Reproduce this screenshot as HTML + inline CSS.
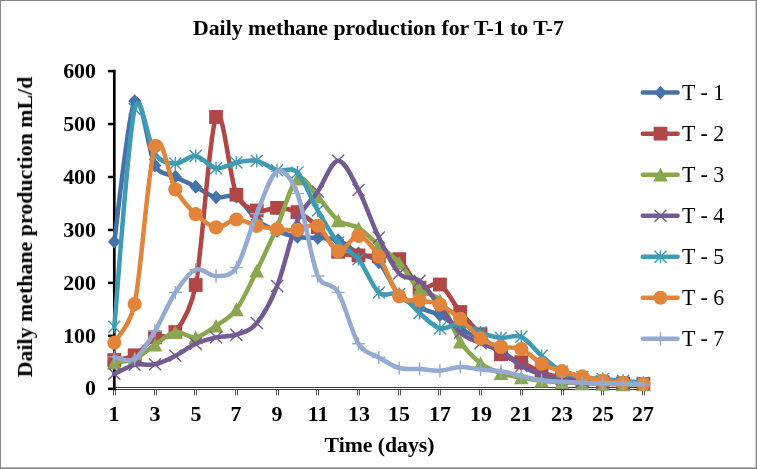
<!DOCTYPE html>
<html><head><meta charset="utf-8">
<style>
html,body{margin:0;padding:0;background:#fff;}
body{width:757px;height:469px;position:relative;overflow:hidden;font-family:"Liberation Serif",serif;color:#000;}
.frame{position:absolute;left:0;top:0;width:757px;height:469px;box-sizing:border-box;border:1px solid #868686;}
.fr2{position:absolute;left:1px;top:1px;width:755px;height:467px;box-sizing:border-box;border-right:1px solid #d0d0d0;border-bottom:1px solid #b4b4b4;}
.t{position:absolute;white-space:nowrap;line-height:1;will-change:transform;}
.b{font-weight:bold;}
.title{left:0;width:757px;text-align:center;top:18px;font-size:21.8px;}
.yl{font-size:21.9px;text-align:right;width:60px;left:35.8px;}
.xl{font-size:21.9px;text-align:center;width:40px;}
.lg{font-size:21.9px;left:681.7px;transform:scaleY(1.07);transform-origin:0 50%;margin-top:0.4px;}
.ytitle{font-size:21.9px;left:24.5px;top:226.5px;transform:translate(-50%,-50%) rotate(-90deg);}
.xtitle{font-size:21.7px;left:0;width:757px;text-align:center;top:434.5px;}
</style></head><body>
<div class="frame"></div><div class="fr2"></div>
<svg width="757" height="469" viewBox="0 0 757 469" style="position:absolute;left:0;top:0">
<g stroke="#3c3c3c" stroke-width="1.1" fill="none">
<path d="M114.30,387.5 L644.40,387.5 M114.30,389.5 L644.40,389.5"/>
<path d="M113.5,389 l0,6.3 M115.5,389 l0,6.3" stroke-width="0.9"/>
<path d="M154.5,389 l0,6.3 M156.5,389 l0,6.3" stroke-width="0.9"/>
<path d="M194.5,389 l0,6.3 M196.5,389 l0,6.3" stroke-width="0.9"/>
<path d="M235.5,389 l0,6.3 M237.5,389 l0,6.3" stroke-width="0.9"/>
<path d="M276.5,389 l0,6.3 M278.5,389 l0,6.3" stroke-width="0.9"/>
<path d="M316.5,389 l0,6.3 M318.5,389 l0,6.3" stroke-width="0.9"/>
<path d="M357.5,389 l0,6.3 M359.5,389 l0,6.3" stroke-width="0.9"/>
<path d="M398.5,389 l0,6.3 M400.5,389 l0,6.3" stroke-width="0.9"/>
<path d="M438.5,389 l0,6.3 M440.5,389 l0,6.3" stroke-width="0.9"/>
<path d="M479.5,389 l0,6.3 M481.5,389 l0,6.3" stroke-width="0.9"/>
<path d="M520.5,389 l0,6.3 M522.5,389 l0,6.3" stroke-width="0.9"/>
<path d="M561.5,389 l0,6.3 M563.5,389 l0,6.3" stroke-width="0.9"/>
<path d="M601.5,389 l0,6.3 M603.5,389 l0,6.3" stroke-width="0.9"/>
<path d="M642.5,389 l0,6.3 M644.5,389 l0,6.3" stroke-width="0.9"/>
</g>
<g stroke="#000" stroke-width="2.7" fill="none">
<path d="M114.30,69.80 L114.30,390.20"/>
<path d="M114.30,388.80 l-6.3,0" stroke-width="2.5"/>
<path d="M114.30,335.85 l-6.3,0" stroke-width="2.5"/>
<path d="M114.30,282.90 l-6.3,0" stroke-width="2.5"/>
<path d="M114.30,229.95 l-6.3,0" stroke-width="2.5"/>
<path d="M114.30,177.00 l-6.3,0" stroke-width="2.5"/>
<path d="M114.30,124.05 l-6.3,0" stroke-width="2.5"/>
<path d="M114.30,71.10 l-6.3,0" stroke-width="2.5"/>
</g>
<path d="M114.30,241.71 C117.69,218.28 127.87,113.81 134.65,101.12 C141.43,88.44 148.22,153.01 155.00,165.60 C160.50,175.81 168.57,173.18 175.35,176.70 C182.13,180.22 188.92,183.31 195.70,186.74 C202.48,190.18 209.27,195.64 216.05,197.31 C222.83,198.99 229.62,193.00 236.40,196.78 C243.18,200.57 249.97,214.31 256.75,220.04 C263.53,225.76 270.32,228.32 277.10,231.14 C283.88,233.95 290.67,235.80 297.45,236.95 C304.23,238.09 311.02,237.48 317.80,238.01 C324.58,238.53 331.37,237.57 338.15,240.12 C344.93,242.67 351.72,249.63 358.50,253.33 C365.28,257.03 372.07,255.36 378.85,262.32 C385.63,269.28 392.42,287.51 399.20,295.08 C405.98,302.66 412.77,304.42 419.55,307.77 C426.33,311.12 433.12,311.64 439.90,315.17 C446.68,318.69 453.47,324.94 460.25,328.91 C467.03,332.87 473.82,335.25 480.60,338.95 C487.38,342.65 494.17,346.88 500.95,351.11 C507.73,355.33 514.52,360.35 521.30,364.32 C528.08,368.28 534.87,372.51 541.65,374.89 C548.43,377.27 555.22,377.53 562.00,378.59 C568.78,379.64 575.57,380.52 582.35,381.23 C589.13,381.93 595.92,382.46 602.70,382.81 C609.48,383.17 616.27,383.17 623.05,383.34 C629.83,383.52 640.01,383.78 643.40,383.87" stroke="#4573A9" stroke-width="4.5" fill="none" stroke-linejoin="round" stroke-linecap="round"/>
<path d="M114.30,234.81 l6.4,6.9 l-6.4,6.9 l-6.4,-6.9 z" fill="#4573A9"/>
<path d="M134.65,94.22 l6.4,6.9 l-6.4,6.9 l-6.4,-6.9 z" fill="#4573A9"/>
<path d="M155.00,158.70 l6.4,6.9 l-6.4,6.9 l-6.4,-6.9 z" fill="#4573A9"/>
<path d="M175.35,169.80 l6.4,6.9 l-6.4,6.9 l-6.4,-6.9 z" fill="#4573A9"/>
<path d="M195.70,179.84 l6.4,6.9 l-6.4,6.9 l-6.4,-6.9 z" fill="#4573A9"/>
<path d="M216.05,190.41 l6.4,6.9 l-6.4,6.9 l-6.4,-6.9 z" fill="#4573A9"/>
<path d="M236.40,189.88 l6.4,6.9 l-6.4,6.9 l-6.4,-6.9 z" fill="#4573A9"/>
<path d="M256.75,213.14 l6.4,6.9 l-6.4,6.9 l-6.4,-6.9 z" fill="#4573A9"/>
<path d="M277.10,224.24 l6.4,6.9 l-6.4,6.9 l-6.4,-6.9 z" fill="#4573A9"/>
<path d="M297.45,230.05 l6.4,6.9 l-6.4,6.9 l-6.4,-6.9 z" fill="#4573A9"/>
<path d="M317.80,231.11 l6.4,6.9 l-6.4,6.9 l-6.4,-6.9 z" fill="#4573A9"/>
<path d="M338.15,233.22 l6.4,6.9 l-6.4,6.9 l-6.4,-6.9 z" fill="#4573A9"/>
<path d="M358.50,246.43 l6.4,6.9 l-6.4,6.9 l-6.4,-6.9 z" fill="#4573A9"/>
<path d="M378.85,255.42 l6.4,6.9 l-6.4,6.9 l-6.4,-6.9 z" fill="#4573A9"/>
<path d="M399.20,288.18 l6.4,6.9 l-6.4,6.9 l-6.4,-6.9 z" fill="#4573A9"/>
<path d="M419.55,300.87 l6.4,6.9 l-6.4,6.9 l-6.4,-6.9 z" fill="#4573A9"/>
<path d="M439.90,308.27 l6.4,6.9 l-6.4,6.9 l-6.4,-6.9 z" fill="#4573A9"/>
<path d="M460.25,322.01 l6.4,6.9 l-6.4,6.9 l-6.4,-6.9 z" fill="#4573A9"/>
<path d="M480.60,332.05 l6.4,6.9 l-6.4,6.9 l-6.4,-6.9 z" fill="#4573A9"/>
<path d="M500.95,344.21 l6.4,6.9 l-6.4,6.9 l-6.4,-6.9 z" fill="#4573A9"/>
<path d="M521.30,357.42 l6.4,6.9 l-6.4,6.9 l-6.4,-6.9 z" fill="#4573A9"/>
<path d="M541.65,367.99 l6.4,6.9 l-6.4,6.9 l-6.4,-6.9 z" fill="#4573A9"/>
<path d="M562.00,371.69 l6.4,6.9 l-6.4,6.9 l-6.4,-6.9 z" fill="#4573A9"/>
<path d="M582.35,374.33 l6.4,6.9 l-6.4,6.9 l-6.4,-6.9 z" fill="#4573A9"/>
<path d="M602.70,375.92 l6.4,6.9 l-6.4,6.9 l-6.4,-6.9 z" fill="#4573A9"/>
<path d="M623.05,376.44 l6.4,6.9 l-6.4,6.9 l-6.4,-6.9 z" fill="#4573A9"/>
<path d="M643.40,376.97 l6.4,6.9 l-6.4,6.9 l-6.4,-6.9 z" fill="#4573A9"/>
<path d="M114.30,360.09 C117.69,359.30 127.87,359.12 134.65,355.33 C141.43,351.55 148.22,341.24 155.00,337.36 C161.78,333.49 168.90,340.38 175.35,332.08 C182.13,323.36 190.94,310.22 195.70,285.04 C202.48,249.19 209.27,132.04 216.05,116.98 C222.83,101.92 229.62,179.08 236.40,194.67 C241.55,206.50 249.97,208.32 256.75,210.52 C263.53,212.73 270.32,207.62 277.10,207.88 C283.88,208.15 290.67,208.94 297.45,212.11 C304.23,215.28 311.02,220.30 317.80,226.91 C324.58,233.51 331.37,246.99 338.15,251.75 C344.93,256.50 351.72,254.74 358.50,255.45 C365.28,256.15 372.07,255.36 378.85,255.98 C385.63,256.59 392.42,253.86 399.20,259.15 C405.98,264.43 412.77,283.46 419.55,287.69 C426.33,291.91 433.12,280.46 439.90,284.51 C446.68,288.57 453.47,303.72 460.25,312.00 C467.03,320.28 473.82,327.15 480.60,334.19 C487.38,341.24 494.17,349.61 500.95,354.28 C507.73,358.94 514.52,359.21 521.30,362.20 C528.08,365.20 534.87,369.69 541.65,372.25 C548.43,374.80 555.22,376.12 562.00,377.53 C568.78,378.94 575.57,379.91 582.35,380.70 C589.13,381.49 595.92,381.85 602.70,382.29 C609.48,382.73 616.27,383.08 623.05,383.34 C629.83,383.61 640.01,383.78 643.40,383.87" stroke="#B04646" stroke-width="4.5" fill="none" stroke-linejoin="round" stroke-linecap="round"/>
<rect x="107.40" y="353.19" width="13.8" height="13.8" fill="#B04646"/>
<rect x="127.75" y="348.43" width="13.8" height="13.8" fill="#B04646"/>
<rect x="148.10" y="330.46" width="13.8" height="13.8" fill="#B04646"/>
<rect x="168.45" y="325.18" width="13.8" height="13.8" fill="#B04646"/>
<rect x="188.80" y="278.14" width="13.8" height="13.8" fill="#B04646"/>
<rect x="209.15" y="110.08" width="13.8" height="13.8" fill="#B04646"/>
<rect x="229.50" y="187.77" width="13.8" height="13.8" fill="#B04646"/>
<rect x="249.85" y="203.62" width="13.8" height="13.8" fill="#B04646"/>
<rect x="270.20" y="200.98" width="13.8" height="13.8" fill="#B04646"/>
<rect x="290.55" y="205.21" width="13.8" height="13.8" fill="#B04646"/>
<rect x="310.90" y="220.01" width="13.8" height="13.8" fill="#B04646"/>
<rect x="331.25" y="244.85" width="13.8" height="13.8" fill="#B04646"/>
<rect x="351.60" y="248.55" width="13.8" height="13.8" fill="#B04646"/>
<rect x="371.95" y="249.08" width="13.8" height="13.8" fill="#B04646"/>
<rect x="392.30" y="252.25" width="13.8" height="13.8" fill="#B04646"/>
<rect x="412.65" y="280.79" width="13.8" height="13.8" fill="#B04646"/>
<rect x="433.00" y="277.61" width="13.8" height="13.8" fill="#B04646"/>
<rect x="453.35" y="305.10" width="13.8" height="13.8" fill="#B04646"/>
<rect x="473.70" y="327.29" width="13.8" height="13.8" fill="#B04646"/>
<rect x="494.05" y="347.38" width="13.8" height="13.8" fill="#B04646"/>
<rect x="514.40" y="355.30" width="13.8" height="13.8" fill="#B04646"/>
<rect x="534.75" y="365.35" width="13.8" height="13.8" fill="#B04646"/>
<rect x="555.10" y="370.63" width="13.8" height="13.8" fill="#B04646"/>
<rect x="575.45" y="373.80" width="13.8" height="13.8" fill="#B04646"/>
<rect x="595.80" y="375.39" width="13.8" height="13.8" fill="#B04646"/>
<rect x="616.15" y="376.44" width="13.8" height="13.8" fill="#B04646"/>
<rect x="636.50" y="376.97" width="13.8" height="13.8" fill="#B04646"/>
<path d="M114.30,362.73 C117.69,362.12 127.87,362.03 134.65,359.03 C141.43,356.04 148.22,349.26 155.00,344.76 C161.78,340.27 168.57,333.31 175.35,332.08 C182.13,330.85 188.92,338.42 195.70,337.36 C202.48,336.31 209.27,330.41 216.05,325.74 C222.83,321.07 229.62,318.51 236.40,309.35 C243.18,300.19 249.97,284.51 256.75,270.77 C263.53,257.03 270.32,242.23 277.10,226.91 C283.88,211.58 290.67,183.83 297.45,178.81 C304.23,173.79 311.02,189.82 317.80,196.78 C324.58,203.74 331.37,215.37 338.15,220.57 C344.93,225.76 351.72,223.82 358.50,227.96 C365.28,232.10 372.07,239.59 378.85,245.41 C385.63,251.22 392.42,255.45 399.20,262.85 C405.98,270.24 412.77,283.55 419.55,289.80 C426.33,296.05 433.12,291.74 439.90,300.37 C446.68,309.00 453.47,331.11 460.25,341.59 C467.03,352.07 473.82,357.98 480.60,363.26 C487.38,368.55 494.17,370.92 500.95,373.30 C507.73,375.68 514.52,376.30 521.30,377.53 C528.08,378.76 534.87,379.91 541.65,380.70 C548.43,381.49 555.22,381.85 562.00,382.29 C568.78,382.73 575.57,383.08 582.35,383.34 C589.13,383.61 595.92,383.70 602.70,383.87 C609.48,384.05 616.27,384.31 623.05,384.40 C629.83,384.49 640.01,384.40 643.40,384.40" stroke="#8AA74F" stroke-width="4.5" fill="none" stroke-linejoin="round" stroke-linecap="round"/>
<path d="M114.30,355.93 l7.3,13.6 l-14.6,0 z" fill="#8AA74F"/>
<path d="M134.65,352.23 l7.3,13.6 l-14.6,0 z" fill="#8AA74F"/>
<path d="M155.00,337.96 l7.3,13.6 l-14.6,0 z" fill="#8AA74F"/>
<path d="M175.35,325.28 l7.3,13.6 l-14.6,0 z" fill="#8AA74F"/>
<path d="M195.70,330.56 l7.3,13.6 l-14.6,0 z" fill="#8AA74F"/>
<path d="M216.05,318.94 l7.3,13.6 l-14.6,0 z" fill="#8AA74F"/>
<path d="M236.40,302.55 l7.3,13.6 l-14.6,0 z" fill="#8AA74F"/>
<path d="M256.75,263.97 l7.3,13.6 l-14.6,0 z" fill="#8AA74F"/>
<path d="M277.10,220.11 l7.3,13.6 l-14.6,0 z" fill="#8AA74F"/>
<path d="M297.45,172.01 l7.3,13.6 l-14.6,0 z" fill="#8AA74F"/>
<path d="M317.80,189.98 l7.3,13.6 l-14.6,0 z" fill="#8AA74F"/>
<path d="M338.15,213.77 l7.3,13.6 l-14.6,0 z" fill="#8AA74F"/>
<path d="M358.50,221.16 l7.3,13.6 l-14.6,0 z" fill="#8AA74F"/>
<path d="M378.85,238.61 l7.3,13.6 l-14.6,0 z" fill="#8AA74F"/>
<path d="M399.20,256.05 l7.3,13.6 l-14.6,0 z" fill="#8AA74F"/>
<path d="M419.55,283.00 l7.3,13.6 l-14.6,0 z" fill="#8AA74F"/>
<path d="M439.90,293.57 l7.3,13.6 l-14.6,0 z" fill="#8AA74F"/>
<path d="M460.25,334.79 l7.3,13.6 l-14.6,0 z" fill="#8AA74F"/>
<path d="M480.60,356.46 l7.3,13.6 l-14.6,0 z" fill="#8AA74F"/>
<path d="M500.95,366.50 l7.3,13.6 l-14.6,0 z" fill="#8AA74F"/>
<path d="M521.30,370.73 l7.3,13.6 l-14.6,0 z" fill="#8AA74F"/>
<path d="M541.65,373.90 l7.3,13.6 l-14.6,0 z" fill="#8AA74F"/>
<path d="M562.00,375.49 l7.3,13.6 l-14.6,0 z" fill="#8AA74F"/>
<path d="M582.35,376.54 l7.3,13.6 l-14.6,0 z" fill="#8AA74F"/>
<path d="M602.70,377.07 l7.3,13.6 l-14.6,0 z" fill="#8AA74F"/>
<path d="M623.05,377.60 l7.3,13.6 l-14.6,0 z" fill="#8AA74F"/>
<path d="M643.40,377.60 l7.3,13.6 l-14.6,0 z" fill="#8AA74F"/>
<path d="M114.30,373.83 C117.69,372.33 127.87,366.43 134.65,364.85 C141.43,363.26 148.22,365.81 155.00,364.32 C161.78,362.82 168.57,359.30 175.35,355.86 C182.13,352.43 188.92,346.79 195.70,343.71 C202.48,340.62 209.27,338.86 216.05,337.36 C222.83,335.87 229.62,337.10 236.40,334.72 C243.18,332.34 249.97,331.20 256.75,323.09 C263.53,314.99 270.32,303.19 277.10,286.10 C283.88,269.01 290.67,236.33 297.45,220.57 C304.23,204.80 311.02,201.45 317.80,191.50 C324.58,181.54 331.37,161.11 338.15,160.85 C344.93,160.58 351.72,177.14 358.50,189.91 C365.28,202.68 372.07,223.56 378.85,237.48 C385.63,251.39 392.42,266.19 399.20,273.42 C405.98,280.64 412.77,275.27 419.55,280.81 C426.33,286.36 433.12,298.08 439.90,306.71 C446.68,315.34 453.47,326.53 460.25,332.61 C467.03,338.69 473.82,340.09 480.60,343.18 C487.38,346.26 494.17,347.32 500.95,351.11 C507.73,354.89 514.52,361.94 521.30,365.90 C528.08,369.87 534.87,372.69 541.65,374.89 C548.43,377.09 555.22,378.06 562.00,379.12 C568.78,380.17 575.57,380.61 582.35,381.23 C589.13,381.85 595.92,382.46 602.70,382.81 C609.48,383.17 616.27,383.17 623.05,383.34 C629.83,383.52 640.01,383.78 643.40,383.87" stroke="#735A93" stroke-width="4.5" fill="none" stroke-linejoin="round" stroke-linecap="round"/>
<path d="M108.30,367.83 l12,12 m0,-12 l-12,12" stroke="#735A93" stroke-width="1.4" fill="none"/>
<path d="M128.65,358.85 l12,12 m0,-12 l-12,12" stroke="#735A93" stroke-width="1.4" fill="none"/>
<path d="M149.00,358.32 l12,12 m0,-12 l-12,12" stroke="#735A93" stroke-width="1.4" fill="none"/>
<path d="M169.35,349.86 l12,12 m0,-12 l-12,12" stroke="#735A93" stroke-width="1.4" fill="none"/>
<path d="M189.70,337.71 l12,12 m0,-12 l-12,12" stroke="#735A93" stroke-width="1.4" fill="none"/>
<path d="M210.05,331.36 l12,12 m0,-12 l-12,12" stroke="#735A93" stroke-width="1.4" fill="none"/>
<path d="M230.40,328.72 l12,12 m0,-12 l-12,12" stroke="#735A93" stroke-width="1.4" fill="none"/>
<path d="M250.75,317.09 l12,12 m0,-12 l-12,12" stroke="#735A93" stroke-width="1.4" fill="none"/>
<path d="M271.10,280.10 l12,12 m0,-12 l-12,12" stroke="#735A93" stroke-width="1.4" fill="none"/>
<path d="M291.45,214.57 l12,12 m0,-12 l-12,12" stroke="#735A93" stroke-width="1.4" fill="none"/>
<path d="M311.80,185.50 l12,12 m0,-12 l-12,12" stroke="#735A93" stroke-width="1.4" fill="none"/>
<path d="M332.15,154.85 l12,12 m0,-12 l-12,12" stroke="#735A93" stroke-width="1.4" fill="none"/>
<path d="M352.50,183.91 l12,12 m0,-12 l-12,12" stroke="#735A93" stroke-width="1.4" fill="none"/>
<path d="M372.85,231.48 l12,12 m0,-12 l-12,12" stroke="#735A93" stroke-width="1.4" fill="none"/>
<path d="M393.20,267.42 l12,12 m0,-12 l-12,12" stroke="#735A93" stroke-width="1.4" fill="none"/>
<path d="M413.55,274.81 l12,12 m0,-12 l-12,12" stroke="#735A93" stroke-width="1.4" fill="none"/>
<path d="M433.90,300.71 l12,12 m0,-12 l-12,12" stroke="#735A93" stroke-width="1.4" fill="none"/>
<path d="M454.25,326.61 l12,12 m0,-12 l-12,12" stroke="#735A93" stroke-width="1.4" fill="none"/>
<path d="M474.60,337.18 l12,12 m0,-12 l-12,12" stroke="#735A93" stroke-width="1.4" fill="none"/>
<path d="M494.95,345.11 l12,12 m0,-12 l-12,12" stroke="#735A93" stroke-width="1.4" fill="none"/>
<path d="M515.30,359.90 l12,12 m0,-12 l-12,12" stroke="#735A93" stroke-width="1.4" fill="none"/>
<path d="M535.65,368.89 l12,12 m0,-12 l-12,12" stroke="#735A93" stroke-width="1.4" fill="none"/>
<path d="M556.00,373.12 l12,12 m0,-12 l-12,12" stroke="#735A93" stroke-width="1.4" fill="none"/>
<path d="M576.35,375.23 l12,12 m0,-12 l-12,12" stroke="#735A93" stroke-width="1.4" fill="none"/>
<path d="M596.70,376.81 l12,12 m0,-12 l-12,12" stroke="#735A93" stroke-width="1.4" fill="none"/>
<path d="M617.05,377.34 l12,12 m0,-12 l-12,12" stroke="#735A93" stroke-width="1.4" fill="none"/>
<path d="M637.40,377.87 l12,12 m0,-12 l-12,12" stroke="#735A93" stroke-width="1.4" fill="none"/>
<path d="M114.30,326.79 C117.69,290.50 127.87,137.86 134.65,109.05 C140.30,85.05 148.22,144.90 155.00,153.97 C161.73,162.97 168.57,163.14 175.35,163.49 C182.13,163.84 188.92,155.30 195.70,156.09 C202.48,156.88 209.27,167.19 216.05,168.24 C222.83,169.30 229.62,163.66 236.40,162.43 C243.18,161.20 249.97,159.52 256.75,160.85 C263.53,162.17 270.32,168.42 277.10,170.36 C283.88,172.30 290.67,165.78 297.45,172.47 C304.23,179.17 311.02,198.81 317.80,210.52 C324.58,222.24 331.37,234.66 338.15,242.76 C344.93,250.87 351.72,250.87 358.50,259.15 C365.28,267.43 372.07,286.63 378.85,292.44 C385.63,298.25 392.42,290.59 399.20,294.03 C405.98,297.46 412.77,307.33 419.55,313.05 C426.33,318.78 433.12,326.62 439.90,328.38 C446.68,330.14 453.47,322.92 460.25,323.62 C467.03,324.33 473.82,330.23 480.60,332.61 C487.38,334.99 494.17,337.19 500.95,337.89 C507.73,338.60 514.52,333.84 521.30,336.84 C528.08,339.83 534.87,350.05 541.65,355.86 C548.43,361.68 555.22,368.19 562.00,371.72 C568.78,375.24 575.57,375.77 582.35,377.00 C589.13,378.23 595.92,378.50 602.70,379.12 C609.48,379.73 616.27,380.08 623.05,380.70 C629.83,381.32 640.01,382.46 643.40,382.81" stroke="#3F9AB3" stroke-width="4.5" fill="none" stroke-linejoin="round" stroke-linecap="round"/>
<path d="M108.30,320.79 l12,12 m0,-12 l-12,12 M114.30,320.29 l0,13" stroke="#3F9AB3" stroke-width="1.4" fill="none"/>
<path d="M128.65,103.05 l12,12 m0,-12 l-12,12 M134.65,102.55 l0,13" stroke="#3F9AB3" stroke-width="1.4" fill="none"/>
<path d="M149.00,147.97 l12,12 m0,-12 l-12,12 M155.00,147.47 l0,13" stroke="#3F9AB3" stroke-width="1.4" fill="none"/>
<path d="M169.35,157.49 l12,12 m0,-12 l-12,12 M175.35,156.99 l0,13" stroke="#3F9AB3" stroke-width="1.4" fill="none"/>
<path d="M189.70,150.09 l12,12 m0,-12 l-12,12 M195.70,149.59 l0,13" stroke="#3F9AB3" stroke-width="1.4" fill="none"/>
<path d="M210.05,162.24 l12,12 m0,-12 l-12,12 M216.05,161.74 l0,13" stroke="#3F9AB3" stroke-width="1.4" fill="none"/>
<path d="M230.40,156.43 l12,12 m0,-12 l-12,12 M236.40,155.93 l0,13" stroke="#3F9AB3" stroke-width="1.4" fill="none"/>
<path d="M250.75,154.85 l12,12 m0,-12 l-12,12 M256.75,154.35 l0,13" stroke="#3F9AB3" stroke-width="1.4" fill="none"/>
<path d="M271.10,164.36 l12,12 m0,-12 l-12,12 M277.10,163.86 l0,13" stroke="#3F9AB3" stroke-width="1.4" fill="none"/>
<path d="M291.45,166.47 l12,12 m0,-12 l-12,12 M297.45,165.97 l0,13" stroke="#3F9AB3" stroke-width="1.4" fill="none"/>
<path d="M311.80,204.52 l12,12 m0,-12 l-12,12 M317.80,204.02 l0,13" stroke="#3F9AB3" stroke-width="1.4" fill="none"/>
<path d="M332.15,236.76 l12,12 m0,-12 l-12,12 M338.15,236.26 l0,13" stroke="#3F9AB3" stroke-width="1.4" fill="none"/>
<path d="M352.50,253.15 l12,12 m0,-12 l-12,12 M358.50,252.65 l0,13" stroke="#3F9AB3" stroke-width="1.4" fill="none"/>
<path d="M372.85,286.44 l12,12 m0,-12 l-12,12 M378.85,285.94 l0,13" stroke="#3F9AB3" stroke-width="1.4" fill="none"/>
<path d="M393.20,288.03 l12,12 m0,-12 l-12,12 M399.20,287.53 l0,13" stroke="#3F9AB3" stroke-width="1.4" fill="none"/>
<path d="M413.55,307.05 l12,12 m0,-12 l-12,12 M419.55,306.55 l0,13" stroke="#3F9AB3" stroke-width="1.4" fill="none"/>
<path d="M433.90,322.38 l12,12 m0,-12 l-12,12 M439.90,321.88 l0,13" stroke="#3F9AB3" stroke-width="1.4" fill="none"/>
<path d="M454.25,317.62 l12,12 m0,-12 l-12,12 M460.25,317.12 l0,13" stroke="#3F9AB3" stroke-width="1.4" fill="none"/>
<path d="M474.60,326.61 l12,12 m0,-12 l-12,12 M480.60,326.11 l0,13" stroke="#3F9AB3" stroke-width="1.4" fill="none"/>
<path d="M494.95,331.89 l12,12 m0,-12 l-12,12 M500.95,331.39 l0,13" stroke="#3F9AB3" stroke-width="1.4" fill="none"/>
<path d="M515.30,330.84 l12,12 m0,-12 l-12,12 M521.30,330.34 l0,13" stroke="#3F9AB3" stroke-width="1.4" fill="none"/>
<path d="M535.65,349.86 l12,12 m0,-12 l-12,12 M541.65,349.36 l0,13" stroke="#3F9AB3" stroke-width="1.4" fill="none"/>
<path d="M556.00,365.72 l12,12 m0,-12 l-12,12 M562.00,365.22 l0,13" stroke="#3F9AB3" stroke-width="1.4" fill="none"/>
<path d="M576.35,371.00 l12,12 m0,-12 l-12,12 M582.35,370.50 l0,13" stroke="#3F9AB3" stroke-width="1.4" fill="none"/>
<path d="M596.70,373.12 l12,12 m0,-12 l-12,12 M602.70,372.62 l0,13" stroke="#3F9AB3" stroke-width="1.4" fill="none"/>
<path d="M617.05,374.70 l12,12 m0,-12 l-12,12 M623.05,374.20 l0,13" stroke="#3F9AB3" stroke-width="1.4" fill="none"/>
<path d="M637.40,376.81 l12,12 m0,-12 l-12,12 M643.40,376.31 l0,13" stroke="#3F9AB3" stroke-width="1.4" fill="none"/>
<path d="M114.30,342.65 C117.69,336.22 130.23,325.42 134.65,304.07 C141.43,271.30 148.22,165.16 155.00,146.05 C161.78,126.93 168.57,178.02 175.35,189.38 C182.13,200.75 188.92,207.88 195.70,214.22 C202.48,220.57 209.27,226.56 216.05,227.44 C222.83,228.32 229.62,219.77 236.40,219.51 C243.18,219.24 249.97,224.27 256.75,225.85 C263.53,227.44 270.32,228.32 277.10,229.02 C283.88,229.73 290.67,230.61 297.45,230.08 C304.23,229.55 311.02,222.33 317.80,225.85 C324.58,229.37 331.37,249.54 338.15,251.22 C344.93,252.89 351.72,235.01 358.50,235.89 C365.28,236.77 372.07,246.46 378.85,256.50 C385.63,266.55 392.42,288.83 399.20,296.14 C405.98,303.45 412.77,298.96 419.55,300.37 C426.33,301.78 433.12,301.51 439.90,304.60 C446.68,307.68 453.47,313.23 460.25,318.87 C467.03,324.50 473.82,333.75 480.60,338.42 C487.38,343.09 494.17,345.12 500.95,346.88 C507.73,348.64 514.52,346.17 521.30,348.99 C528.08,351.81 534.87,360.09 541.65,363.79 C548.43,367.49 555.22,369.07 562.00,371.19 C568.78,373.30 575.57,374.89 582.35,376.47 C589.13,378.06 595.92,379.64 602.70,380.70 C609.48,381.76 616.27,382.29 623.05,382.81 C629.83,383.34 640.01,383.70 643.40,383.87" stroke="#E2853B" stroke-width="4.5" fill="none" stroke-linejoin="round" stroke-linecap="round"/>
<circle cx="114.30" cy="342.65" r="7.1" fill="#E2853B"/>
<circle cx="134.65" cy="304.07" r="7.1" fill="#E2853B"/>
<circle cx="155.00" cy="146.05" r="7.1" fill="#E2853B"/>
<circle cx="175.35" cy="189.38" r="7.1" fill="#E2853B"/>
<circle cx="195.70" cy="214.22" r="7.1" fill="#E2853B"/>
<circle cx="216.05" cy="227.44" r="7.1" fill="#E2853B"/>
<circle cx="236.40" cy="219.51" r="7.1" fill="#E2853B"/>
<circle cx="256.75" cy="225.85" r="7.1" fill="#E2853B"/>
<circle cx="277.10" cy="229.02" r="7.1" fill="#E2853B"/>
<circle cx="297.45" cy="230.08" r="7.1" fill="#E2853B"/>
<circle cx="317.80" cy="225.85" r="7.1" fill="#E2853B"/>
<circle cx="338.15" cy="251.22" r="7.1" fill="#E2853B"/>
<circle cx="358.50" cy="235.89" r="7.1" fill="#E2853B"/>
<circle cx="378.85" cy="256.50" r="7.1" fill="#E2853B"/>
<circle cx="399.20" cy="296.14" r="7.1" fill="#E2853B"/>
<circle cx="419.55" cy="300.37" r="7.1" fill="#E2853B"/>
<circle cx="439.90" cy="304.60" r="7.1" fill="#E2853B"/>
<circle cx="460.25" cy="318.87" r="7.1" fill="#E2853B"/>
<circle cx="480.60" cy="338.42" r="7.1" fill="#E2853B"/>
<circle cx="500.95" cy="346.88" r="7.1" fill="#E2853B"/>
<circle cx="521.30" cy="348.99" r="7.1" fill="#E2853B"/>
<circle cx="541.65" cy="363.79" r="7.1" fill="#E2853B"/>
<circle cx="562.00" cy="371.19" r="7.1" fill="#E2853B"/>
<circle cx="582.35" cy="376.47" r="7.1" fill="#E2853B"/>
<circle cx="602.70" cy="380.70" r="7.1" fill="#E2853B"/>
<circle cx="623.05" cy="382.81" r="7.1" fill="#E2853B"/>
<circle cx="643.40" cy="383.87" r="7.1" fill="#E2853B"/>
<path d="M114.30,356.92 C117.69,357.27 127.87,363.35 134.65,359.03 C141.43,354.72 148.22,342.12 155.00,331.02 C161.78,319.92 168.57,302.66 175.35,292.44 C182.13,282.22 188.92,272.45 195.70,269.72 C202.48,266.99 209.27,276.41 216.05,276.06 C222.83,275.71 230.38,276.83 236.40,267.60 C243.18,257.21 249.97,229.73 256.75,213.70 C263.53,197.66 270.32,174.76 277.10,171.42 C283.88,168.07 291.99,179.58 297.45,193.61 C304.23,211.05 311.02,259.59 317.80,276.06 C322.77,288.14 331.42,281.25 338.15,292.44 C344.93,303.72 351.72,332.87 358.50,343.71 C365.02,354.11 372.07,353.40 378.85,357.45 C385.63,361.50 392.42,366.08 399.20,368.02 C405.98,369.95 412.77,368.63 419.55,369.07 C426.33,369.51 433.12,371.01 439.90,370.66 C446.68,370.31 453.47,367.14 460.25,366.96 C467.03,366.78 473.82,368.90 480.60,369.60 C487.38,370.31 494.17,370.13 500.95,371.19 C507.73,372.25 514.52,374.45 521.30,375.94 C528.08,377.44 534.87,379.20 541.65,380.17 C548.43,381.14 555.22,381.32 562.00,381.76 C568.78,382.20 575.57,382.55 582.35,382.81 C589.13,383.08 595.92,383.17 602.70,383.34 C609.48,383.52 616.27,383.70 623.05,383.87 C629.83,384.05 640.01,384.31 643.40,384.40" stroke="#94AAD0" stroke-width="4.5" fill="none" stroke-linejoin="round" stroke-linecap="round"/>
<path d="M107.80,356.92 l13,0 M114.30,350.42 l0,13" stroke="#94AAD0" stroke-width="1.4" fill="none"/>
<path d="M128.15,359.03 l13,0 M134.65,352.53 l0,13" stroke="#94AAD0" stroke-width="1.4" fill="none"/>
<path d="M148.50,331.02 l13,0 M155.00,324.52 l0,13" stroke="#94AAD0" stroke-width="1.4" fill="none"/>
<path d="M168.85,292.44 l13,0 M175.35,285.94 l0,13" stroke="#94AAD0" stroke-width="1.4" fill="none"/>
<path d="M189.20,269.72 l13,0 M195.70,263.22 l0,13" stroke="#94AAD0" stroke-width="1.4" fill="none"/>
<path d="M209.55,276.06 l13,0 M216.05,269.56 l0,13" stroke="#94AAD0" stroke-width="1.4" fill="none"/>
<path d="M229.90,267.60 l13,0 M236.40,261.10 l0,13" stroke="#94AAD0" stroke-width="1.4" fill="none"/>
<path d="M250.25,213.70 l13,0 M256.75,207.20 l0,13" stroke="#94AAD0" stroke-width="1.4" fill="none"/>
<path d="M270.60,171.42 l13,0 M277.10,164.92 l0,13" stroke="#94AAD0" stroke-width="1.4" fill="none"/>
<path d="M290.95,193.61 l13,0 M297.45,187.11 l0,13" stroke="#94AAD0" stroke-width="1.4" fill="none"/>
<path d="M311.30,276.06 l13,0 M317.80,269.56 l0,13" stroke="#94AAD0" stroke-width="1.4" fill="none"/>
<path d="M331.65,292.44 l13,0 M338.15,285.94 l0,13" stroke="#94AAD0" stroke-width="1.4" fill="none"/>
<path d="M352.00,343.71 l13,0 M358.50,337.21 l0,13" stroke="#94AAD0" stroke-width="1.4" fill="none"/>
<path d="M372.35,357.45 l13,0 M378.85,350.95 l0,13" stroke="#94AAD0" stroke-width="1.4" fill="none"/>
<path d="M392.70,368.02 l13,0 M399.20,361.52 l0,13" stroke="#94AAD0" stroke-width="1.4" fill="none"/>
<path d="M413.05,369.07 l13,0 M419.55,362.57 l0,13" stroke="#94AAD0" stroke-width="1.4" fill="none"/>
<path d="M433.40,370.66 l13,0 M439.90,364.16 l0,13" stroke="#94AAD0" stroke-width="1.4" fill="none"/>
<path d="M453.75,366.96 l13,0 M460.25,360.46 l0,13" stroke="#94AAD0" stroke-width="1.4" fill="none"/>
<path d="M474.10,369.60 l13,0 M480.60,363.10 l0,13" stroke="#94AAD0" stroke-width="1.4" fill="none"/>
<path d="M494.45,371.19 l13,0 M500.95,364.69 l0,13" stroke="#94AAD0" stroke-width="1.4" fill="none"/>
<path d="M514.80,375.94 l13,0 M521.30,369.44 l0,13" stroke="#94AAD0" stroke-width="1.4" fill="none"/>
<path d="M535.15,380.17 l13,0 M541.65,373.67 l0,13" stroke="#94AAD0" stroke-width="1.4" fill="none"/>
<path d="M555.50,381.76 l13,0 M562.00,375.26 l0,13" stroke="#94AAD0" stroke-width="1.4" fill="none"/>
<path d="M575.85,382.81 l13,0 M582.35,376.31 l0,13" stroke="#94AAD0" stroke-width="1.4" fill="none"/>
<path d="M596.20,383.34 l13,0 M602.70,376.84 l0,13" stroke="#94AAD0" stroke-width="1.4" fill="none"/>
<path d="M616.55,383.87 l13,0 M623.05,377.37 l0,13" stroke="#94AAD0" stroke-width="1.4" fill="none"/>
<path d="M636.90,384.40 l13,0 M643.40,377.90 l0,13" stroke="#94AAD0" stroke-width="1.4" fill="none"/>
<path d="M642.8,92.60 L677.6,92.60" stroke="#4573A9" stroke-width="4.5" stroke-linecap="round"/>
<path d="M660.50,85.70 l6.4,6.9 l-6.4,6.9 l-6.4,-6.9 z" fill="#4573A9"/>
<path d="M642.8,133.63 L677.6,133.63" stroke="#B04646" stroke-width="4.5" stroke-linecap="round"/>
<rect x="653.60" y="126.73" width="13.8" height="13.8" fill="#B04646"/>
<path d="M642.8,174.66 L677.6,174.66" stroke="#8AA74F" stroke-width="4.5" stroke-linecap="round"/>
<path d="M660.50,167.86 l7.3,13.6 l-14.6,0 z" fill="#8AA74F"/>
<path d="M642.8,215.69 L677.6,215.69" stroke="#735A93" stroke-width="4.5" stroke-linecap="round"/>
<path d="M654.50,209.69 l12,12 m0,-12 l-12,12" stroke="#735A93" stroke-width="1.4" fill="none"/>
<path d="M642.8,256.72 L677.6,256.72" stroke="#3F9AB3" stroke-width="4.5" stroke-linecap="round"/>
<path d="M654.50,250.72 l12,12 m0,-12 l-12,12 M660.50,250.22 l0,13" stroke="#3F9AB3" stroke-width="1.4" fill="none"/>
<path d="M642.8,297.75 L677.6,297.75" stroke="#E2853B" stroke-width="4.5" stroke-linecap="round"/>
<circle cx="660.50" cy="297.75" r="7.1" fill="#E2853B"/>
<path d="M642.8,338.78 L677.6,338.78" stroke="#94AAD0" stroke-width="4.5" stroke-linecap="round"/>
<path d="M654.00,338.78 l13,0 M660.50,332.28 l0,13" stroke="#94AAD0" stroke-width="1.4" fill="none"/>
</svg>
<div class="t b title">Daily methane production for T-1 to T-7</div>
<div class="t b yl" style="top:377.4px">0</div>
<div class="t b yl" style="top:324.5px">100</div>
<div class="t b yl" style="top:271.5px">200</div>
<div class="t b yl" style="top:218.6px">300</div>
<div class="t b yl" style="top:165.6px">400</div>
<div class="t b yl" style="top:112.7px">500</div>
<div class="t b yl" style="top:59.7px">600</div>
<div class="t b xl" style="left:94.3px;top:402.5px">1</div>
<div class="t b xl" style="left:135.0px;top:402.5px">3</div>
<div class="t b xl" style="left:175.7px;top:402.5px">5</div>
<div class="t b xl" style="left:216.4px;top:402.5px">7</div>
<div class="t b xl" style="left:257.1px;top:402.5px">9</div>
<div class="t b xl" style="left:297.8px;top:402.5px">11</div>
<div class="t b xl" style="left:338.5px;top:402.5px">13</div>
<div class="t b xl" style="left:379.2px;top:402.5px">15</div>
<div class="t b xl" style="left:419.9px;top:402.5px">17</div>
<div class="t b xl" style="left:460.6px;top:402.5px">19</div>
<div class="t b xl" style="left:501.3px;top:402.5px">21</div>
<div class="t b xl" style="left:542.0px;top:402.5px">23</div>
<div class="t b xl" style="left:582.7px;top:402.5px">25</div>
<div class="t b xl" style="left:623.4px;top:402.5px">27</div>
<div class="t lg" style="top:81.6px">T - 1</div>
<div class="t lg" style="top:122.6px">T - 2</div>
<div class="t lg" style="top:163.7px">T - 3</div>
<div class="t lg" style="top:204.7px">T - 4</div>
<div class="t lg" style="top:245.7px">T - 5</div>
<div class="t lg" style="top:286.8px">T - 6</div>
<div class="t lg" style="top:327.8px">T - 7</div>
<div class="t b ytitle">Daily methane production mL/d</div>
<div class="t b xtitle" style="left:1px">Time (days)</div>
</body></html>
